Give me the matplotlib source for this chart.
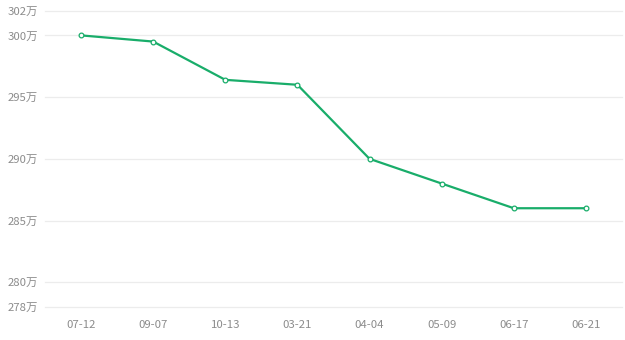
import matplotlib
matplotlib.use("Agg")
import matplotlib.pyplot as plt

plt.rcParams["font.family"] = ["Noto Sans CJK SC", "DejaVu Sans"]

# data (units: 万)
dates = ["07-12", "09-07", "10-13", "03-21", "04-04", "05-09", "06-17", "06-21"]
values = [300, 299.5, 296.4, 296, 290, 288, 286, 286]
y_ticks = [278, 280, 285, 290, 295, 300, 302]

LINE = "#19ad6a"
GRID = "#ececec"
TEXT = "#8c8c8c"

fig = plt.figure(figsize=(6.25, 3.4), dpi=100)
ax = fig.add_axes([45 / 625, 1 - 307 / 340, 577 / 625, (307 - 10.7) / 340])

x = range(len(dates))
ax.plot(x, values, color=LINE, linewidth=1.6, zorder=3)
ax.plot(x, values, linestyle="none", marker="o", markersize=3.4,
        markerfacecolor="white", markeredgecolor=LINE, markeredgewidth=0.9, zorder=4)

ax.set_xlim(-0.5, len(dates) - 0.5)
ax.set_ylim(y_ticks[0], y_ticks[-1])
ax.set_xticks(list(x))
ax.set_xticklabels(dates)
ax.set_yticks(y_ticks)
ax.set_yticklabels([f"{v}万" for v in y_ticks])

for v in y_ticks:
    ax.axhline(v, color=GRID, linewidth=0.9, zorder=1, clip_on=False)

for s in ax.spines.values():
    s.set_visible(False)
ax.tick_params(axis="both", length=0, colors=TEXT, labelsize=8.2)
ax.tick_params(axis="x", pad=9)
ax.tick_params(axis="y", pad=5)

fig.savefig("out.png", dpi=100)
